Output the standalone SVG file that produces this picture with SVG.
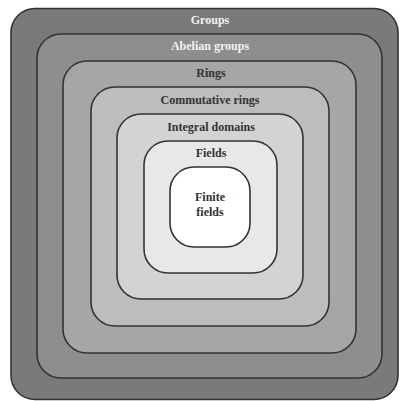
<svg xmlns="http://www.w3.org/2000/svg" width="401" height="401" viewBox="0 0 401 401">
  <style>
    .set { stroke: #333; stroke-width: 1.6; }
    .lbl { font-family: "Liberation Serif", "Times New Roman", serif; font-weight: bold; font-size: 12px; text-anchor: middle; fill: #333; }
    .light { fill: #f2f2f2; }
  </style>
  <rect width="401" height="401" fill="#ffffff"/>
  <g id="groups">
    <rect class="set" x="11" y="8.5" width="387" height="391" rx="24" fill="#7a7a7a"/>
    <text class="lbl light" x="210" y="24">Groups</text>
  </g>
  <g id="abelian-groups">
    <rect class="set" x="37" y="34" width="345" height="344" rx="24" fill="#8e8e8e"/>
    <text class="lbl light" x="210" y="50">Abelian groups</text>
  </g>
  <g id="rings">
    <rect class="set" x="63" y="61" width="293" height="292" rx="24" fill="#a6a6a6"/>
    <text class="lbl" x="211" y="77">Rings</text>
  </g>
  <g id="commutative-rings">
    <rect class="set" x="91" y="87" width="238" height="239" rx="24" fill="#bdbdbd"/>
    <text class="lbl" x="210" y="104">Commutative rings</text>
  </g>
  <g id="integral-domains">
    <rect class="set" x="117" y="114" width="186" height="185" rx="24" fill="#d3d3d3"/>
    <text class="lbl" x="211" y="131">Integral domains</text>
  </g>
  <g id="fields">
    <rect class="set" x="144" y="141" width="133" height="132" rx="24" fill="#e8e8e8"/>
    <text class="lbl" x="211" y="157">Fields</text>
  </g>
  <g id="finite-fields">
    <rect class="set" x="170" y="167" width="80" height="80" rx="24" fill="#ffffff"/>
    <text class="lbl" x="210" y="201">Finite</text>
    <text class="lbl" x="210" y="216">fields</text>
  </g>
  <g id="connectors"/>
</svg>
